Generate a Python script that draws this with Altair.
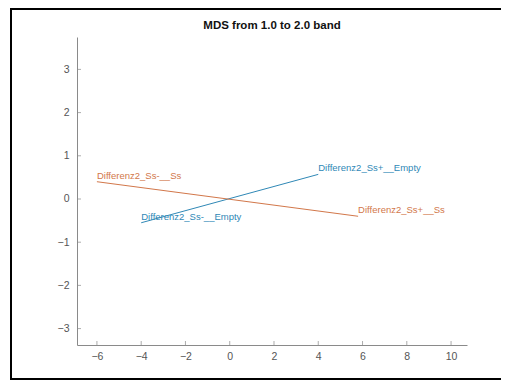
import altair as alt
import pandas as pd

series = ["Empty", "Empty", "Ss", "Ss"]
xs = [-4.0, 4.0, -6.0, 5.8]
ys = [-0.55, 0.57, 0.40, -0.40]
labels = ["Differenz2_Ss-__Empty", "Differenz2_Ss+__Empty", "Differenz2_Ss-__Ss", "Differenz2_Ss+__Ss"]
x_ticks = [-6, -4, -2, 0, 2, 4, 6, 8, 10]
y_ticks = [-3, -2, -1, 0, 1, 2, 3]
x_domain = [-6.9, 10.72]
y_domain = [-3.38, 3.75]
series_names = ["Empty", "Ss"]
series_colors = ["#2f88b6", "#d2774a"]
title_text = ["MDS from 1.0 to 2.0 band"]

W, H = 390, 308

df = pd.DataFrame({"series": series, "x": xs, "y": ys, "label": labels})
xt = pd.DataFrame({"t": x_ticks})
yt = pd.DataFrame({"t": y_ticks})
tdf = pd.DataFrame({"title": title_text})

xs_scale = alt.Scale(domain=x_domain, nice=False, zero=False)
ys_scale = alt.Scale(domain=y_domain, nice=False, zero=False)
col = alt.Color("series:N", scale=alt.Scale(domain=series_names, range=series_colors), legend=None)

axis_common = dict(grid=False, tickSize=0, domainColor="#8a8a8a", labelColor="#555555",
                   labelFont="Liberation Sans", labelFontSize=10.5, title=None)

lines = alt.Chart(df).mark_line(strokeWidth=1).encode(
    x=alt.X("x:Q", scale=xs_scale, axis=alt.Axis(values=x_ticks, labelPadding=6, **axis_common)),
    y=alt.Y("y:Q", scale=ys_scale, axis=alt.Axis(values=y_ticks, labelPadding=8, **axis_common)),
    color=col,
    detail="series:N",
)

texts = alt.Chart(df).mark_text(align="left", baseline="middle", dy=-6, dx=0,
                                font="Liberation Sans", fontSize=9.5).encode(
    x=alt.X("x:Q", scale=xs_scale),
    y=alt.Y("y:Q", scale=ys_scale),
    text="label:N",
    color=col,
)

title_mark = alt.Chart(tdf).mark_text(align="center", baseline="middle", font="Liberation Sans",
                                      fontSize=11.5, fontWeight="bold", color="#111111", clip=False).encode(
    x=alt.value(W / 2), y=alt.value(-11), text="title:N"
)

xtick_marks = alt.Chart(xt).mark_tick(color="#8a8a8a", size=4, thickness=1, orient="vertical").encode(
    x=alt.X("t:Q", scale=xs_scale), y=alt.value(H - 2)
)
ytick_marks = alt.Chart(yt).mark_tick(color="#8a8a8a", size=4, thickness=1, orient="horizontal").encode(
    y=alt.Y("t:Q", scale=ys_scale), x=alt.value(2)
)

frame_df = pd.DataFrame({"k": [0]})
frame_top = alt.Chart(frame_df).mark_rect(color="black", clip=False).encode(
    x=alt.value(-67), x2=alt.value(424), y=alt.value(-29), y2=alt.value(-27)
)
frame_left = alt.Chart(frame_df).mark_rect(color="black", clip=False).encode(
    x=alt.value(-67), x2=alt.value(-65), y=alt.value(-29), y2=alt.value(343)
)
frame_bottom = alt.Chart(frame_df).mark_rect(color="black", clip=False).encode(
    x=alt.value(-67), x2=alt.value(424), y=alt.value(341), y2=alt.value(343)
)

chart = alt.layer(lines, texts, title_mark, xtick_marks, ytick_marks, frame_top, frame_left, frame_bottom).properties(
    width=W, height=H,
    autosize=alt.AutoSizeParams(type="none"),
    padding={"left": 69, "top": 29, "right": 34, "bottom": 35},
).configure_view(stroke=None)

chart.save("out.html", embed_options={"renderer": "svg", "actions": False})
